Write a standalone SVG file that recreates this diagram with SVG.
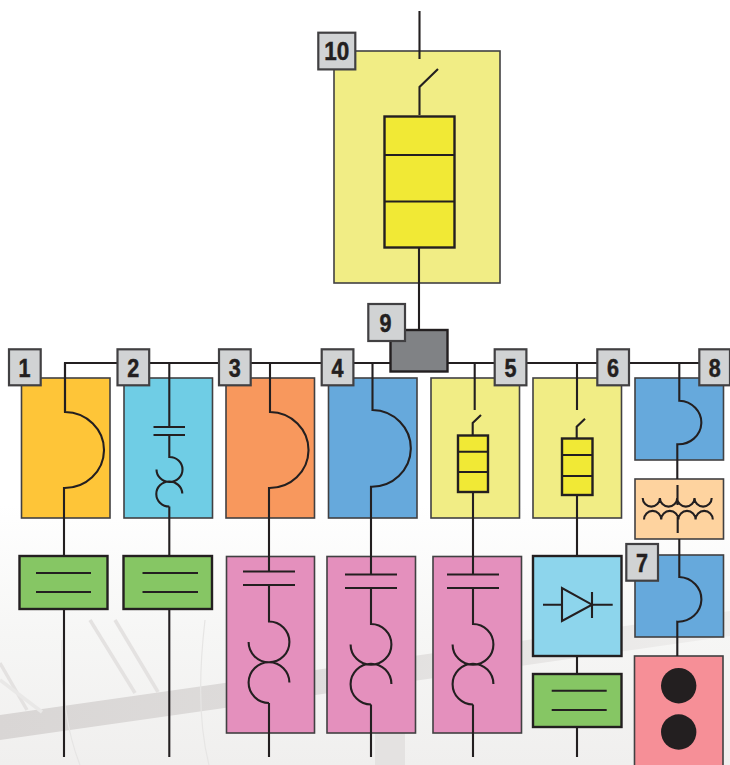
<svg xmlns="http://www.w3.org/2000/svg" width="730" height="765" viewBox="0 0 730 765">
<style>
.box{stroke:#414042;stroke-width:1.6}
.thick{stroke:#231f20;stroke-width:2.4}
.ln{fill:none;stroke:#231f20;stroke-width:2.1}
.tag rect{fill:#d1d3d4;stroke:#414042;stroke-width:2.2}
.tag text{font-family:"Liberation Sans",Arial,sans-serif;font-weight:700;font-size:26.500px;fill:#231f20;stroke:#231f20;stroke-width:.5;text-anchor:middle}
.yl{fill:#f1ed85}.fu{fill:#f1e935}.bl{fill:#66a9dc}.pk{fill:#e490bd}.gr{fill:#86c664}
</style>
<defs>
<linearGradient id="bg" x1="0" y1="0" x2="0" y2="1"><stop offset="0" stop-color="#ffffff"/><stop offset=".5" stop-color="#f6f6f5"/><stop offset="1" stop-color="#f0efee"/></linearGradient>
<linearGradient id="beam" x1="0" y1="0" x2="1" y2="0"><stop offset="0" stop-color="#d9d6d5"/><stop offset=".4" stop-color="#dedcdb"/><stop offset="1" stop-color="#efeeed"/></linearGradient>
</defs>
<g id="background">
<rect x="0" y="505" width="730" height="260" fill="url(#bg)"/>
<polygon points="0,715 730,611 730,636 0,740" fill="url(#beam)"/>
<g fill="none" stroke="#e4e2e1" stroke-width="3.500">
<path d="M0 663L27 710"/><path d="M0 680L42 712" stroke="#e9e8e7"/><path d="M90 620L135 693"/><path d="M115 620L158 692"/>
</g>
<g fill="none" stroke="#e6e5e4" stroke-width="1.200">
<path d="M62 640C60 690 68 735 80 765"/><path d="M205 620C198 680 200 730 209 765"/>
</g>
<rect x="375" y="733" width="30" height="32" fill="#e4e2e1"/>
</g>
<g id="nodes">
<g id="n10"><rect class="box yl" x="334" y="51" width="166" height="232"/><rect class="thick fu" x="384.500" y="116.500" width="70" height="131"/><path class="ln" d="M384 155H455M384 201.500H455"/></g>
<g id="n9box"><rect x="390.500" y="330" width="57" height="41.500" fill="#808285" stroke="#231f20" stroke-width="2.400"/></g>
<g id="n1"><rect class="box" fill="#fec538" x="21.500" y="378" width="88.500" height="140"/></g>
<g id="n2"><rect class="box" fill="#6fcde5" x="124" y="378" width="88.500" height="140"/></g>
<g id="n3"><rect class="box" fill="#f8985d" x="226" y="378" width="88.500" height="140"/></g>
<g id="n4"><rect class="box bl" x="328.500" y="378" width="88.500" height="140"/></g>
<g id="n5"><rect class="box yl" x="431" y="378" width="88.500" height="140"/><rect class="thick fu" x="458" y="435.500" width="30" height="56.500"/><path class="ln" d="M458 451.700H488M458 472H488"/></g>
<g id="n6"><rect class="box yl" x="533" y="378" width="88.500" height="140"/><rect class="thick fu" x="562" y="438.500" width="30.500" height="56.500"/><path class="ln" d="M562 455H592.500M562 476H592.500"/></g>
<g id="n8"><rect class="box bl" x="635" y="378" width="88.500" height="82"/></g>
<g id="transformer"><rect class="box" fill="#fed39f" x="635" y="479" width="88.500" height="60"/></g>
<g id="n7"><rect class="box bl" x="635" y="555" width="88.500" height="82"/></g>
<g id="g1"><rect class="thick gr" x="19.500" y="556" width="88" height="53"/><path class="ln" d="M36 573H91M36 592H91"/></g>
<g id="g2"><rect class="thick gr" x="123.500" y="556" width="88.500" height="53"/><path class="ln" d="M142.500 573H198M142.500 592H198"/></g>
<g id="p3"><rect class="box pk" x="226.500" y="556.500" width="88" height="176.500"/></g>
<g id="p4"><rect class="box pk" x="327" y="556.500" width="88.500" height="176.500"/></g>
<g id="p5"><rect class="box pk" x="433" y="556.500" width="88.500" height="176.500"/></g>
<g id="rectifier"><rect class="thick" fill="#8dd5ec" x="533" y="556" width="88.500" height="100"/></g>
<g id="g3"><rect class="thick gr" x="533" y="674" width="88.500" height="53"/><path class="ln" d="M551.700 690.700H606.700M551.700 710H606.700"/></g>
<g id="battery"><rect class="box" fill="#f68f97" x="634.500" y="656" width="88.500" height="112"/><circle cx="678.700" cy="685.700" r="17.700" fill="#231f20"/><circle cx="678.700" cy="732" r="17.700" fill="#231f20"/></g>
</g>
<g id="connectors" class="ln">
<path d="M65 412V363H390M447 363H730"/>
<path d="M65 363V412A39.500 38 0 0 1 64 488V556M64 609V757"/>
<path d="M169.300 363V427M153.500 427H185M153.500 435H185M169.300 435V457A13 12.500 0 1 1 156.500 469.500M169.300 506.500A13 12.500 0 1 1 182.300 493.500M169.300 506.500V556M169.300 609V757"/>
<path d="M270 363V412A39 38 0 0 1 269 488V571.500M243 571.500H295M243 585H295M269 585V621.500A20.400 20.400 0 1 1 248.600 642M269 703A20.400 20.400 0 1 1 289.400 682.600M269 703V757"/>
<path d="M372.500 363V410A39 38.300 0 0 1 371 486.700V574.500M345 574.500H397M345 588H397M371 588V624A20.400 20.400 0 1 1 350.600 644.400M371 704.500A20.400 20.400 0 1 1 391.400 684M371 704.500V757"/>
<path d="M474.700 363V410M481 415L472.700 423V435.500M473 492V574.500M447 574.500H499M447 588H499M473 588V624A20.400 20.400 0 1 1 452.600 644.400M473 704.500A20.400 20.400 0 1 1 493.400 684M473 704.500V757"/>
<path d="M577 363V410M585 418.700L576.700 426.700V438.500M577 495V556M543 604.700H562M592 604.700H612.700M592 592V618M577 656V674M577 727V757"/>
<path d="M562 588V621L592 604.700Z"/>
<path d="M679.300 363V400.700A23 21.800 0 0 1 677.300 444.300V479M679.300 539V577A23 22.300 0 0 1 677.300 621.700V656"/>
<path d="M642.700 498a8.600 8.600 0 0 0 17.200 0a8.600 8.600 0 0 0 17.300 0a8.600 8.600 0 0 0 17.300 0a8.600 8.600 0 0 0 17.200 0M677.500 485V505M644 519.500a8.600 8.600 0 0 1 17.200 0a8.600 8.600 0 0 1 17.200 0a8.600 8.600 0 0 1 17.200 0a8.600 8.600 0 0 1 17.200 0M677.700 515V533"/>
<path d="M419.500 11V59M438 69L419.500 87V115M419 247V330"/>
</g>
<g id="labels">
<g class="tag"><rect x="9" y="349.300" width="31.700" height="36"/><text x="24.500" y="376.500" textLength="12" lengthAdjust="spacingAndGlyphs">1</text></g>
<g class="tag"><rect x="117.500" y="349.300" width="31.700" height="36"/><text x="133.300" y="376.500" textLength="12" lengthAdjust="spacingAndGlyphs">2</text></g>
<g class="tag"><rect x="219" y="349.300" width="31.700" height="36"/><text x="234.800" y="376.500" textLength="12" lengthAdjust="spacingAndGlyphs">3</text></g>
<g class="tag"><rect x="321.700" y="349.300" width="31.700" height="36"/><text x="337.500" y="376.500" textLength="12" lengthAdjust="spacingAndGlyphs">4</text></g>
<g class="tag"><rect x="494.700" y="349.300" width="31.700" height="36"/><text x="510.500" y="376.500" textLength="12" lengthAdjust="spacingAndGlyphs">5</text></g>
<g class="tag"><rect x="597.300" y="349.300" width="31.700" height="36"/><text x="613" y="376.500" textLength="12" lengthAdjust="spacingAndGlyphs">6</text></g>
<g class="tag"><rect x="626.300" y="544" width="31.700" height="36.700"/><text x="642" y="571.500" textLength="12" lengthAdjust="spacingAndGlyphs">7</text></g>
<g class="tag"><rect x="699.300" y="349.300" width="30.700" height="36"/><text x="714.700" y="376.500" textLength="12" lengthAdjust="spacingAndGlyphs">8</text></g>
<g class="tag"><rect x="368.300" y="304" width="36.700" height="37"/><text x="385.500" y="331.500" textLength="12" lengthAdjust="spacingAndGlyphs">9</text></g>
<g class="tag"><rect x="318.300" y="32.700" width="37" height="36.700"/><text x="336.800" y="60" textLength="25" lengthAdjust="spacingAndGlyphs">10</text></g>
</g>
</svg>
